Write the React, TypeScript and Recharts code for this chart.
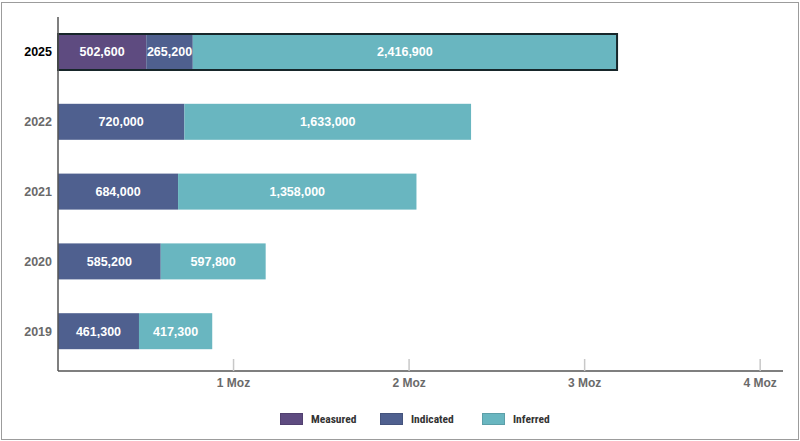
import React from 'react';
import { BarChart, Bar, XAxis, YAxis, LabelList, Legend } from 'recharts';

const categories = ['2025', '2022', '2021', '2020', '2019'];
const measured: (number | null)[] = [502600, null, null, null, null];
const indicated: (number | null)[] = [265200, 720000, 684000, 585200, 461300];
const inferred: (number | null)[] = [2416900, 1633000, 1358000, 597800, 417300];
const xTicks = [1000000, 2000000, 3000000, 4000000];
const xTickLabels = ['1 Moz', '2 Moz', '3 Moz', '4 Moz'];
const highlightYear = '2025';

const seriesNames = ['Measured', 'Indicated', 'Inferred'];
const seriesKeys = ['measured', 'indicated', 'inferred'];
const seriesColors = ['#5e4b80', '#4f608f', '#69b6c0'];

const rows = categories.map((year, i) => ({
  year,
  measured: measured[i],
  indicated: indicated[i],
  inferred: inferred[i],
}));

const FONT = '"Liberation Sans", Arial, Helvetica, sans-serif';

const makeShape = (fill: string, edge: 'left' | 'mid' | 'right') => (props: any) => {
  const { x, y, width, height, payload } = props;
  if (!width || width <= 0 || !height) return <g />;
  const rect = <rect x={x} y={y} width={width} height={height} fill={fill} />;
  if (!payload || payload.year !== highlightYear) return rect;
  const x2 = x + width;
  const y2 = y + height;
  let d = `M${x},${y}L${x2},${y}M${x},${y2}L${x2},${y2}`;
  if (edge === 'left') d += `M${x},${y}L${x},${y2}`;
  if (edge === 'right') d += `M${x2},${y}L${x2},${y2}`;
  return (
    <g>
      {rect}
      <path d={d} stroke="#17262a" strokeWidth={2} strokeLinecap="square" fill="none" />
    </g>
  );
};

const shapes = [makeShape(seriesColors[0], 'left'), makeShape(seriesColors[1], 'mid'), makeShape(seriesColors[2], 'right')];

const fmt = (v: any) => (v == null || v === 0 ? '' : Number(v).toLocaleString('en-US'));

const XTick = (props: any) => {
  const { x, y, payload } = props;
  const idx = xTicks.indexOf(payload.value);
  return (
    <g>
      <line x1={x} x2={x} y1={y - 12} y2={y} stroke="#c8c8c8" strokeWidth={1.5} />
      <text x={x} y={y + 16} textAnchor="middle" fill="#6a6a6a" fontFamily={FONT} fontWeight={700} fontSize={12}>
        {idx >= 0 ? xTickLabels[idx] : ''}
      </text>
    </g>
  );
};

const YTick = (props: any) => {
  const { x, y, payload } = props;
  const hl = payload.value === highlightYear;
  return (
    <text x={x} y={y + 4.5} textAnchor="end" fill={hl ? '#000000' : '#6a6a6a'} fontFamily={FONT} fontWeight={700} fontSize={12.5}>
      {payload.value}
    </text>
  );
};

const legendLefts = [280, 380, 482];

const LegendContent = () => (
  <div style={{ position: 'relative', width: 800, height: 20 }}>
    {seriesNames.map((name, i) => (
      <div key={name} style={{ position: 'absolute', left: legendLefts[i], top: 0, display: 'flex', alignItems: 'center', height: 14 }}>
        <div style={{ width: 23, height: 12, background: seriesColors[i], boxShadow: 'inset 0 0 0 1px rgba(0,0,0,0.12)' }} />
        <span
          style={{
            marginLeft: 8,
            fontFamily: '"Liberation Sans Narrow", "Roboto Condensed", "DejaVu Sans Condensed", "Liberation Sans", sans-serif',
            fontSize: 11.5,
            fontWeight: 700,
            color: '#333',
            lineHeight: '14px',
          }}
        >
          {name}
        </span>
      </div>
    ))}
  </div>
);

export default function App() {
  return (
    <div style={{ position: 'absolute', left: 0, top: 0, width: 800, height: 441, background: '#fff' }}>
      <div
        style={{
          position: 'absolute',
          left: 1,
          top: 2,
          width: 798,
          height: 438,
          border: '1.5px solid #9c9c9c',
          boxSizing: 'border-box',
        }}
      />
      <BarChart
        width={800}
        height={441}
        data={rows}
        layout="vertical"
        margin={{ top: 17, right: 17, left: 0, bottom: 40 }}
        barSize={36}
      >
        <XAxis
          type="number"
          domain={[0, 4130000]}
          ticks={xTicks}
          tick={<XTick />}
          tickLine={false}
          tickSize={0}
          tickMargin={0}
          height={30}
          axisLine={{ stroke: '#555', strokeWidth: 1.5 }}
          interval={0}
        />
        <YAxis
          type="category"
          dataKey="year"
          width={58}
          tick={<YTick />}
          tickLine={false}
          tickSize={0}
          tickMargin={6}
          padding={{ top: 0, bottom: 5 }}
          axisLine={{ stroke: '#555', strokeWidth: 1.5 }}
          interval={0}
        />
        <Legend
          layout="horizontal"
          verticalAlign="middle"
          align="center"
          content={<LegendContent />}
          wrapperStyle={{ top: 412, left: 0, width: 800 }}
        />
        {seriesKeys.map((key, i) => (
          <Bar
            key={key}
            dataKey={key}
            name={seriesNames[i]}
            stackId="a"
            fill={seriesColors[i]}
            shape={shapes[i]}
            isAnimationActive={false}
          >
            <LabelList
              dataKey={key}
              position="center"
              formatter={fmt}
              fill="#ffffff"
              fontFamily={FONT}
              fontWeight={700}
              fontSize={12.5}
            />
          </Bar>
        ))}
      </BarChart>
    </div>
  );
}
